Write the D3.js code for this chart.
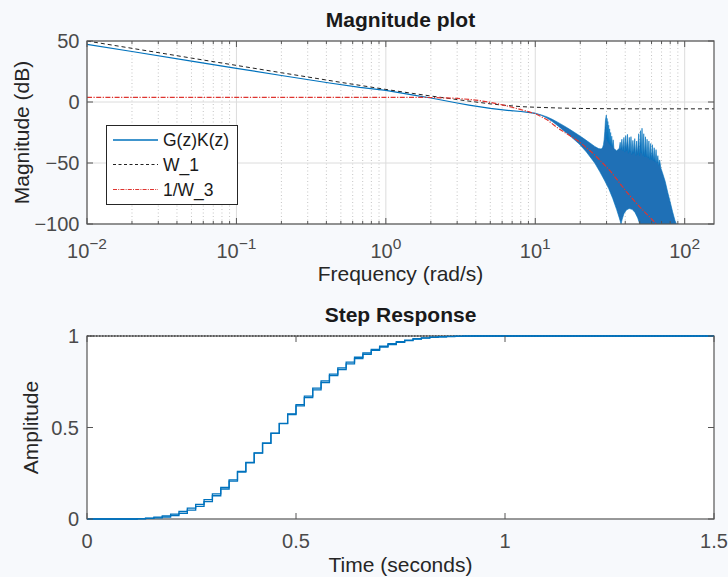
<!DOCTYPE html>
<html><head><meta charset="utf-8">
<script src="https://cdn.jsdelivr.net/npm/d3@7"></script>
<style>
html,body{margin:0;padding:0;background:#f7f9fc;}
svg{display:block;}
text{font-family:"Liberation Sans",Arial,Helvetica,sans-serif;}
</style></head><body>
<svg id="fig" width="728" height="577"></svg>
<script>
// ---------- data ----------
const freqDecades = [0.01, 0.1, 1, 10, 100];
const freqExponents = ["-2", "-1", "0", "1", "2"];
const magTicks = [50, 0, -50, -100];
const timeTicks = [0, 0.5, 1, 1.5];
const timeTickLabels = ["0", "0.5", "1", "1.5"];
const ampTicks = [0, 0.5, 1];
const ampTickLabels = ["0", "0.5", "1"];
const legendLabels = ["G(z)K(z)", "W_1", "1/W_3"];

// G(z)K(z) nominal, low-frequency part [rad/s, dB]
const gkNominal = [[0.01,47.3],[0.02,41.4],[0.05,33.5],[0.1,27.6],[0.2,21.7],[0.42,15.6],[0.67,12.0],[1,9.6],[1.5,5.9],[2,3.3],[3,-0.8],[3.6,-2.5],[5,-5.3],[6.5,-6.8],[8,-7.8],[9,-8.5],[10,-9.3]];
// upper envelope of the family of G(z)K(z) curves (resonance needles included)
const gkBandTop = [[10,-9.3],[11,-10.6],[12,-12.2],[13,-14.2],[14,-16.3],[15.5,-19.4],[17,-22.4],[19,-26.2],[21,-29.8],[23,-33.2],[25,-36.4],[26.5,-38.2],[27.6,-38.5],[28.2,-37.5],[28.6,-35],[28.9,-31],[29.2,-24],[29.5,-15],[29.9,-10.7],[30.05,-30],[30.25,-13.5],[30.4,-32],[30.6,-16],[30.8,-33],[31.0,-19],[31.2,-34],[31.45,-22],[31.7,-35],[31.95,-25],[32.2,-36],[32.5,-28],[32.8,-37],[33.2,-31],[33.6,-38],[34.2,-39],[35,-40],[35.8,-39],[36.5,-38],[37.0,-33],[37.4,-39],[38.0,-30.5],[38.5,-40],[39.2,-29],[39.7,-41],[40.3,-27.5],[40.8,-40],[41.4,-26.5],[42.0,-42],[42.6,-29],[43.1,-41],[43.7,-28.4],[44.3,-43],[45.0,-31.5],[45.6,-42],[46.3,-30],[47.0,-44],[47.7,-32],[48.4,-43],[49.2,-26],[49.9,-44],[50.6,-23.5],[51.2,-42],[51.8,-21.5],[52.5,-44],[53.2,-26],[53.9,-45],[54.6,-28.5],[55.3,-45],[56.0,-30.5],[56.8,-46],[57.6,-32],[58.4,-47],[59.2,-34],[60.0,-47],[60.8,-35],[61.6,-48],[62.5,-37.5],[63.4,-49],[64.3,-39],[65.2,-50],[66.1,-44],[67.0,-52],[68.0,-47.5],[69.2,-54],[71,-58],[74,-65],[77,-74],[80,-82],[83,-90],[86,-97],[88,-100]];
// lower envelope of the family of G(z)K(z) curves
const gkBandBottom = [[10,-9.3],[11,-11],[12,-13.3],[13,-16],[14,-19],[15.5,-23.5],[17,-27.5],[19.7,-34.5],[22,-41],[25,-50],[27,-57],[29,-64],[31,-71],[33,-79],[35,-88],[36.5,-95],[37.5,-100],[38.2,-96],[39.2,-91.5],[40.7,-88.5],[42.5,-87.3],[44.5,-88],[46.5,-90.5],[48.5,-95],[50,-100],[88,-100]];
// W_1 weight
const w1 = [[0.01,50],[0.02,44],[0.05,36],[0.1,30],[0.2,24],[0.5,16.1],[1,10.3],[1.5,7.1],[2,4.9],[3,2.0],[4,0.0],[5,-1.5],[6,-2.5],[8,-3.8],[10,-4.3],[15,-5.0],[20,-5.3],[30,-5.5],[50,-5.6],[157.08,-5.6]];
// 1/W_3 weight
const invW3 = [[0.01,3.8],[0.1,3.8],[1,3.8],[2,3.7],[3,3.0],[4,1.6],[5,-0.3],[6,-2.3],[7,-4.3],[8,-6.2],[9,-7.9],[10,-9.6],[12,-14.5],[14,-21],[16,-25.5],[19.7,-32.5],[24.3,-42],[27,-47.5],[32,-57],[40.7,-73.5],[50,-86],[64.7,-100]];

// step response (sample time 0.02 s), upper and lower of the overlapping responses
const stepTime = [0,0.10,0.12,0.14,0.16,0.18,0.20,0.22,0.24,0.26,0.28,0.30,0.32,0.34,0.36,0.38,0.40,0.42,0.44,0.46,0.48,0.50,0.52,0.54,0.56,0.58,0.60,0.62,0.64,0.66,0.68,0.70,0.72,0.74,0.76,0.78,0.80,0.82,0.84,0.86,0.88,0.90,0.92,1.5];
const stepHigh = [0,0,0.002,0.005,0.010,0.017,0.027,0.041,0.059,0.080,0.106,0.137,0.173,0.214,0.260,0.309,0.361,0.415,0.469,0.523,0.575,0.625,0.671,0.715,0.755,0.792,0.826,0.857,0.884,0.907,0.927,0.944,0.958,0.969,0.978,0.985,0.990,0.994,0.996,0.998,0.999,1,1,1];
const stepLow  = [0,0,0.001,0.003,0.006,0.011,0.019,0.031,0.048,0.069,0.095,0.127,0.164,0.207,0.256,0.307,0.360,0.414,0.468,0.521,0.571,0.618,0.663,0.706,0.746,0.783,0.817,0.848,0.876,0.900,0.921,0.939,0.953,0.965,0.975,0.983,0.988,0.992,0.995,0.997,0.998,0.999,1,1];
const steadyState = 1;

// ---------- drawing ----------
(function draw() {
const svg = d3.select("#fig");
const BLUE = "#0072BD", AXC = "#555555", TXT = "#4a4a4a", RED = "#de3530";

// ===== top: magnitude plot =====
const x = d3.scaleLog().domain([0.01, 157.08]).range([87, 714]);
const y = d3.scaleLinear().domain([-100, 50]).range([224, 41]);
const gTop = svg.append("g");
gTop.append("rect").attr("x",87).attr("y",41).attr("width",627).attr("height",183).attr("fill","#ffffff");
svg.append("clipPath").attr("id","clipTop").append("rect").attr("x",87).attr("y",41).attr("width",627).attr("height",183);

const allTicks = x.ticks().filter(v => v >= 0.01 && v <= 157.08);
const minor = allTicks.filter(v => Math.abs(Math.log10(v) - Math.round(Math.log10(v))) > 1e-6);
gTop.selectAll("line.minor").data(minor).join("line")
  .attr("x1", d => x(d)).attr("x2", d => x(d)).attr("y1", 41).attr("y2", 224)
  .attr("stroke", "#c4c4c4").attr("stroke-width", 1).attr("stroke-dasharray", "1,2.5");
gTop.selectAll("line.majx").data(freqDecades).join("line")
  .attr("x1", d => x(d)).attr("x2", d => x(d)).attr("y1", 41).attr("y2", 224)
  .attr("stroke", "#dcdcdc").attr("stroke-width", 1);
gTop.selectAll("line.majy").data(magTicks).join("line")
  .attr("x1", 87).attr("x2", 714).attr("y1", d => y(d)).attr("y2", d => y(d))
  .attr("stroke", "#dcdcdc").attr("stroke-width", 1);

const plot = gTop.append("g").attr("clip-path","url(#clipTop)");
const magLine = d3.line().x(d => x(d[0])).y(d => y(d[1]));
const bandPoly = gkBandTop.concat(gkBandBottom.slice().reverse());
plot.append("path").attr("d", magLine(bandPoly) + "Z")
  .attr("fill", "#1f70b6").attr("stroke", BLUE).attr("stroke-width", 0.6).attr("stroke-linejoin","bevel");
plot.append("path").attr("d", magLine(gkNominal)).attr("fill","none").attr("stroke", BLUE).attr("stroke-width", 1.2);
plot.append("path").attr("d", magLine(w1)).attr("fill","none").attr("stroke", "#222").attr("stroke-width", 1).attr("stroke-dasharray","4,3");
plot.append("path").attr("d", magLine(invW3)).attr("fill","none").attr("stroke", RED).attr("stroke-width", 1.2).attr("stroke-dasharray","5,1.5,1.2,1.5");

// box + ticks
gTop.append("rect").attr("x",87).attr("y",41).attr("width",627).attr("height",183)
  .attr("fill","none").attr("stroke",AXC).attr("stroke-width",1.2);
gTop.selectAll("line.tb").data(freqDecades).join("line")
  .attr("x1", d => x(d)).attr("x2", d => x(d)).attr("y1", 224).attr("y2", 218).attr("stroke",AXC);
gTop.selectAll("line.tt").data(freqDecades).join("line")
  .attr("x1", d => x(d)).attr("x2", d => x(d)).attr("y1", 41).attr("y2", 47).attr("stroke",AXC);
gTop.selectAll("line.mb").data(minor).join("line")
  .attr("x1", d => x(d)).attr("x2", d => x(d)).attr("y1", 224).attr("y2", 221).attr("stroke",AXC);
gTop.selectAll("line.mt").data(minor).join("line")
  .attr("x1", d => x(d)).attr("x2", d => x(d)).attr("y1", 41).attr("y2", 44).attr("stroke",AXC);
gTop.selectAll("line.yl").data(magTicks).join("line")
  .attr("x1", 87).attr("x2", 93).attr("y1", d => y(d)).attr("y2", d => y(d)).attr("stroke",AXC);
gTop.selectAll("line.yr").data(magTicks).join("line")
  .attr("x1", 714).attr("x2", 708).attr("y1", d => y(d)).attr("y2", d => y(d)).attr("stroke",AXC);

// tick labels
gTop.selectAll("text.yt").data(magTicks).join("text")
  .attr("x", 79.5).attr("y", d => y(d) + 7.2).attr("text-anchor","end")
  .attr("font-size", 20).attr("fill", TXT).text(d => d < 0 ? "\u2212" + Math.abs(d) : d);
freqDecades.forEach((v, i) => {
  const t = gTop.append("text").attr("x", x(v)).attr("y", 257.5).attr("text-anchor","middle").attr("fill",TXT);
  t.append("tspan").attr("font-size", 20).text("10");
  t.append("tspan").attr("font-size", 15.5).attr("dy", -9).text(freqExponents[i].replace("-", "\u2212"));
});
gTop.append("text").attr("x", 400.5).attr("y", 281).attr("text-anchor","middle").attr("font-size",21).attr("fill","#262626").text("Frequency (rad/s)");
gTop.append("text").attr("transform","translate(29,132.5) rotate(-90)").attr("text-anchor","middle").attr("font-size",21).attr("fill","#262626").text("Magnitude (dB)");
gTop.append("text").attr("x", 400.5).attr("y", 27).attr("text-anchor","middle").attr("font-size",21).attr("font-weight","bold").attr("fill","#1a1a1a").text("Magnitude plot");

// legend
const lg = gTop.append("g");
lg.append("rect").attr("x",106.5).attr("y",125.5).attr("width",131).attr("height",79).attr("fill","#fff").attr("stroke","#262626").attr("stroke-width",1);
const legStyles = [
  {stroke: BLUE, dash: null, w: 1.3},
  {stroke: "#222", dash: "3,2.5", w: 1},
  {stroke: RED, dash: "4,1.2,1,1.2", w: 1.1}
];
const legY = [140, 164.5, 189.5];
legendLabels.forEach((lab, i) => {
  lg.append("line").attr("x1",113).attr("x2",158).attr("y1",legY[i]).attr("y2",legY[i])
    .attr("stroke",legStyles[i].stroke).attr("stroke-width",legStyles[i].w).attr("stroke-dasharray",legStyles[i].dash);
  lg.append("text").attr("x",163).attr("y",legY[i]+6.3).attr("font-size",17.5).attr("fill","#1a1a1a").text(lab);
});

// ===== bottom: step response =====
const xt = d3.scaleLinear().domain([0, 1.5]).range([87, 714]);
const ya = d3.scaleLinear().domain([0, 1]).range([519, 336]);
const bot = svg.append("g");
bot.append("rect").attr("x",87).attr("y",336).attr("width",627).attr("height",183).attr("fill","#ffffff");
bot.append("rect").attr("x",87).attr("y",336).attr("width",627).attr("height",183)
  .attr("fill","none").attr("stroke",AXC).attr("stroke-width",1.2);
const stepLine = d3.line().curve(d3.curveStepAfter).x(d => xt(d[0])).y(d => ya(d[1]));
bot.append("line").attr("x1", xt(0)).attr("x2", xt(1.5)).attr("y1", ya(steadyState)).attr("y2", ya(steadyState))
  .attr("stroke","#222").attr("stroke-width",1).attr("stroke-dasharray","1.5,1.5");
bot.append("path").attr("d", stepLine(stepTime.map((t,i)=>[t, stepLow[i]]))).attr("fill","none").attr("stroke",BLUE).attr("stroke-width",1.3);
bot.append("path").attr("d", stepLine(stepTime.map((t,i)=>[t, stepHigh[i]]))).attr("fill","none").attr("stroke",BLUE).attr("stroke-width",1.3);

bot.selectAll("line.xb").data(timeTicks).join("line")
  .attr("x1", d => xt(d)).attr("x2", d => xt(d)).attr("y1", 519).attr("y2", 513).attr("stroke",AXC);
bot.selectAll("line.xtp").data(timeTicks).join("line")
  .attr("x1", d => xt(d)).attr("x2", d => xt(d)).attr("y1", 336).attr("y2", 342).attr("stroke",AXC);
bot.selectAll("line.yl").data(ampTicks).join("line")
  .attr("x1", 87).attr("x2", 93).attr("y1", d => ya(d)).attr("y2", d => ya(d)).attr("stroke",AXC);
bot.selectAll("line.yr").data(ampTicks).join("line")
  .attr("x1", 714).attr("x2", 708).attr("y1", d => ya(d)).attr("y2", d => ya(d)).attr("stroke",AXC);
bot.selectAll("text.xt").data(timeTicks).join("text")
  .attr("x", d => xt(d)).attr("y", 548.3).attr("text-anchor","middle").attr("font-size",20).attr("fill",TXT)
  .text((d,i) => timeTickLabels[i]);
bot.selectAll("text.yt").data(ampTicks).join("text")
  .attr("x", 79).attr("y", d => ya(d) + 7.2).attr("text-anchor","end").attr("font-size",20).attr("fill",TXT)
  .text((d,i) => ampTickLabels[i]);
bot.append("text").attr("x", 400.5).attr("y", 571.5).attr("text-anchor","middle").attr("font-size",21).attr("fill","#262626").text("Time (seconds)");
bot.append("text").attr("transform","translate(37.5,427.5) rotate(-90)").attr("text-anchor","middle").attr("font-size",21).attr("fill","#262626").text("Amplitude");
bot.append("text").attr("x", 400.5).attr("y", 322).attr("text-anchor","middle").attr("font-size",21).attr("font-weight","bold").attr("fill","#1a1a1a").text("Step Response");
})();
</script>
</body></html>
